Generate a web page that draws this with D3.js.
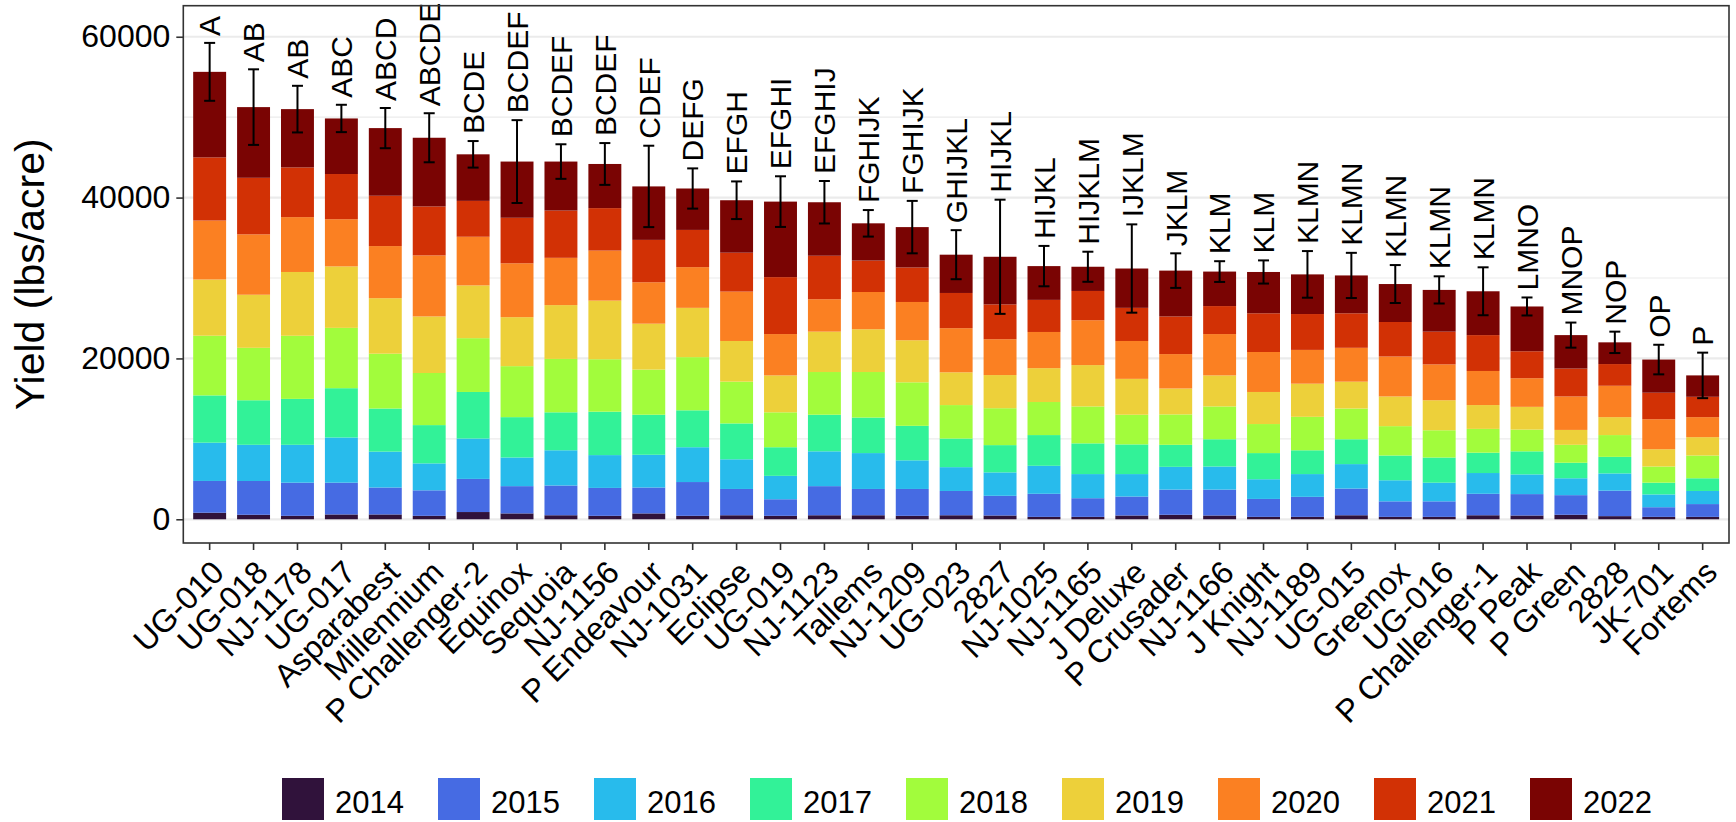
<!DOCTYPE html>
<html>
<head>
<meta charset="utf-8">
<script src="https://cdn.jsdelivr.net/npm/d3@7"></script>
<style>
  body { margin: 0; background: #ffffff; }
  svg { display: block; font-family: "Liberation Sans", Arial, Helvetica, sans-serif; }
</style>
</head>
<body>
<svg id="chart" width="1736" height="822"></svg>
<script>
// Cultivars, ordered by mean total yield
const cultivars = ["UG-010","UG-018","NJ-1178","UG-017","Asparabest","Millennium","P Challenger-2",
  "Equinox","Sequoia","NJ-1156","P Endeavour","NJ-1031","Eclipse","UG-019","NJ-1123","Tallems",
  "NJ-1209","UG-023","2827","NJ-1025","NJ-1165","J Deluxe","P Crusader","NJ-1166","J Knight",
  "NJ-1189","UG-015","Greenox","UG-016","P Challenger-1","P Peak","P Green","2828","JK-701","Fortems"];

const years = ["2014","2015","2016","2017","2018","2019","2020","2021","2022"];

// Yield (lbs/acre) harvested in each year, per cultivar
const y2014 = [815,560,430,600,600,430,900,730,500,430,730,430,500,430,500,500,430,500,470,300,300,470,560,470,300,300,500,300,300,500,470,560,390,300,300];
const y2015 = [3950,4200,4120,3950,3350,3170,4120,3390,3700,3470,3220,4200,3270,2060,3620,3270,3340,3020,2450,2870,2320,2360,3130,3220,2230,2490,3320,1930,1930,2670,2660,2440,3170,1200,1590];
const y2016 = [4760,4500,4710,5620,4460,3350,5020,3560,4380,4080,4070,4330,3690,2910,4330,4460,3560,2960,2910,3480,3000,2790,2830,2870,2450,2830,3040,2620,2320,2580,2450,2100,2140,1590,1630];
const y2017 = [5880,5540,5710,6130,5360,4760,5790,5020,4720,5400,4980,4590,4460,3560,4550,4420,4290,3560,3390,3820,3820,3690,2740,3390,3250,2960,3090,3080,3130,2530,2870,1930,2060,1460,1580];
const y2018 = [7420,6520,7850,7500,6820,6480,6690,6340,6640,6520,5610,6610,5190,4340,5310,5660,5410,4160,4590,4110,4590,3690,3780,4080,3610,4160,3820,3650,3390,2960,2700,2230,2710,2010,2830];
const y2019 = [6990,6600,7930,7640,6900,7030,6560,6090,6690,7290,5710,6130,5060,4590,5020,5320,5230,4070,4120,4210,5140,4460,3220,3860,3990,4120,3340,3690,3730,2960,2830,1850,2230,2150,2280];
const y2020 = [7330,7510,6820,5870,6480,7590,6050,6700,5880,6220,5150,5060,6140,5140,4030,4630,4760,5490,4460,4500,5580,4710,4280,5140,4970,4200,4210,4970,4460,4240,3560,4160,3900,3730,2490];
const y2021 = [7850,7030,6180,5620,6260,6090,4460,5660,5880,5280,5270,4630,4840,7080,5410,3910,4290,4380,4330,3990,3640,4120,4680,3480,4810,4460,4290,4290,4070,4460,3350,3470,2700,3300,2530];
const y2022 = [10640,8790,7250,6910,8410,8540,5790,6990,6090,5490,6650,5150,6520,9390,6650,4630,5020,4760,5920,4200,3010,4890,5700,4290,5140,4930,4710,4720,5190,5450,5570,4160,2700,4120,2660];

// Standard error of the cumulative yield
const se = [3600,4700,2900,1700,2500,3050,1650,5150,2150,2600,5060,2500,2340,3150,2640,1650,3260,3050,7100,2510,1870,5490,2150,1290,1440,2900,2810,2360,1690,2980,1120,1560,1330,1840,2830];

// Mean separation letters
const letters = ["A","AB","AB","ABC","ABCD","ABCDE","BCDE","BCDEF","BCDEF","BCDEF","CDEF","DEFG","EFGH",
  "EFGHI","EFGHIJ","FGHIJK","FGHIJK","GHIJKL","HIJKL","HIJKL","HIJKLM","IJKLM","JKLM","KLM","KLM",
  "KLMN","KLMN","KLMN","KLMN","KLMN","LMNO","MNOP","NOP","OP","P"];

const yMajorTicks = [0, 20000, 40000, 60000];
const yMinorTicks = [10000, 30000, 50000];
const yearColors = ["#30123B","#466BE3","#28BBEC","#32F298","#A2FC3C","#EDD03A","#FB8022","#D23105","#7A0403"];

const seriesByYear = [y2014, y2015, y2016, y2017, y2018, y2019, y2020, y2021, y2022];
const rows = cultivars.map((c, i) => {
  const r = { cultivar: c };
  years.forEach((yr, k) => { r[yr] = seriesByYear[k][i]; });
  return r;
});

const panel = { left: 183.3, right: 1729, top: 5.7, bottom: 543 };
const svg = d3.select("#chart");

const x = d3.scaleBand()
  .domain(cultivars)
  .range([panel.left, panel.right])
  .paddingInner(0.25)
  .paddingOuter(0.225);

const y = d3.scaleLinear()
  .domain([-2950, 63860])
  .range([panel.bottom, panel.top]);

const color = d3.scaleOrdinal().domain(years).range(yearColors);

// Panel background and grid
svg.append("rect")
  .attr("x", panel.left).attr("y", panel.top)
  .attr("width", panel.right - panel.left).attr("height", panel.bottom - panel.top)
  .attr("fill", "#ffffff");

svg.append("g").selectAll("line").data(yMinorTicks).join("line")
  .attr("x1", panel.left).attr("x2", panel.right)
  .attr("y1", d => y(d)).attr("y2", d => y(d))
  .attr("stroke", "#ebebeb").attr("stroke-width", 1.1);

svg.append("g").selectAll("line").data(yMajorTicks).join("line")
  .attr("x1", panel.left).attr("x2", panel.right)
  .attr("y1", d => y(d)).attr("y2", d => y(d))
  .attr("stroke", "#ebebeb").attr("stroke-width", 2.2);

// Stacked bars
const stacked = d3.stack().keys(years)(rows);

svg.append("g").selectAll("g").data(stacked).join("g")
  .attr("fill", d => color(d.key))
  .selectAll("rect").data(d => d).join("rect")
  .attr("x", d => x(d.data.cultivar))
  .attr("width", x.bandwidth())
  .attr("y", d => y(d[1]))
  .attr("height", d => y(d[0]) - y(d[1]));

// Error bars on the total
const totals = rows.map(r => d3.sum(years, yr => r[yr]));
const capHalf = 5.5;
const eb = svg.append("g").attr("stroke", "#000").attr("stroke-width", 2).attr("fill", "none");
cultivars.forEach((c, i) => {
  const cx = x(c) + x.bandwidth() / 2;
  const lo = y(totals[i] - se[i]), hi = y(totals[i] + se[i]);
  eb.append("line").attr("x1", cx).attr("x2", cx).attr("y1", lo).attr("y2", hi);
  eb.append("line").attr("x1", cx - capHalf).attr("x2", cx + capHalf).attr("y1", lo).attr("y2", lo);
  eb.append("line").attr("x1", cx - capHalf).attr("x2", cx + capHalf).attr("y1", hi).attr("y2", hi);
});

// Letter groups above the error bars
svg.append("g").selectAll("text").data(cultivars).join("text")
  .attr("transform", (c, i) => `translate(${x(c) + x.bandwidth() / 2},${y(totals[i] + se[i]) - 7}) rotate(-90)`)
  .attr("dy", "0.36em")
  .attr("text-anchor", "start")
  .attr("font-size", 30)
  .attr("fill", "#000")
  .text((c, i) => letters[i]);

// Panel border
svg.append("rect")
  .attr("x", panel.left).attr("y", panel.top)
  .attr("width", panel.right - panel.left).attr("height", panel.bottom - panel.top)
  .attr("fill", "none").attr("stroke", "#333333").attr("stroke-width", 1.6);

// Y axis
const yAxis = svg.append("g")
  .attr("transform", `translate(${panel.left},0)`)
  .call(d3.axisLeft(y).tickValues(yMajorTicks).tickFormat(d3.format("d")).tickSize(7).tickPadding(6));
yAxis.select(".domain").remove();
yAxis.selectAll(".tick line").attr("stroke", "#333333").attr("stroke-width", 1.6);
yAxis.selectAll(".tick text").attr("font-size", 32).attr("fill", "#000").attr("font-family", null);

// X axis with slanted cultivar names
const xAxis = svg.append("g")
  .attr("transform", `translate(0,${panel.bottom})`)
  .call(d3.axisBottom(x).tickSize(7));
xAxis.select(".domain").remove();
xAxis.selectAll(".tick line").attr("stroke", "#333333").attr("stroke-width", 1.6);
xAxis.selectAll(".tick text")
  .attr("x", 0).attr("y", 0)
  .attr("dy", "0.72em")
  .attr("transform", "translate(0,15) rotate(-45)")
  .attr("text-anchor", "end")
  .attr("font-size", 32).attr("fill", "#000").attr("font-family", null);

// Y axis title
svg.append("text")
  .attr("transform", `translate(44,${(panel.top + panel.bottom) / 2}) rotate(-90)`)
  .attr("text-anchor", "middle")
  .attr("font-size", 41)
  .attr("fill", "#000")
  .text("Yield (lbs/acre)");

// Legend
const legend = svg.append("g").selectAll("g").data(years).join("g")
  .attr("transform", (d, i) => `translate(${282 + i * 156},778)`);
legend.append("rect").attr("width", 42).attr("height", 42).attr("fill", d => color(d));
legend.append("text")
  .attr("x", 53).attr("y", 35)
  .attr("font-size", 31).attr("fill", "#000")
  .text(d => d);
</script>
</body>
</html>
